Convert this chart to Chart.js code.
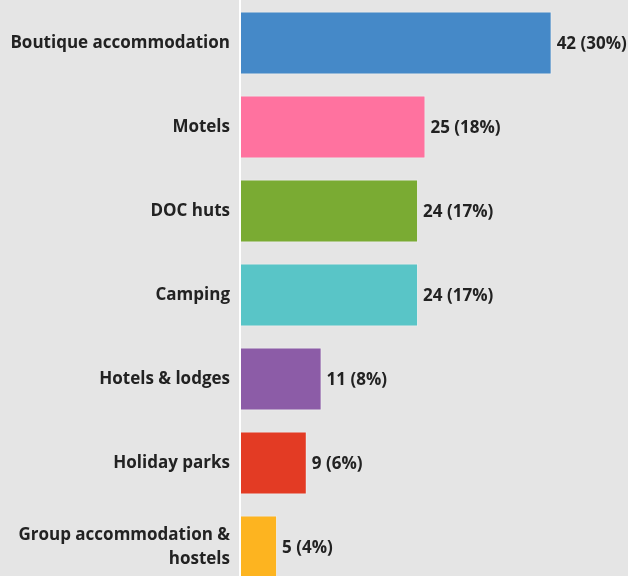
<!DOCTYPE html>
<html>
<head>
<meta charset="utf-8">
<script src="https://cdn.jsdelivr.net/npm/chart.js@4"></script>
<style>
  html, body { margin: 0; padding: 0; background: #e5e5e5; overflow: hidden; }
  #wrap { width: 628px; height: 589px; }
</style>
</head>
<body>
<div id="wrap"><canvas id="chart"></canvas></div>
<script>
// accommodation types and counts
const categories = [
  'Boutique accommodation',
  'Motels',
  'DOC huts',
  'Camping',
  'Hotels & lodges',
  'Holiday parks',
  ['Group accommodation &', 'hostels']
]
const counts = [42, 25, 24, 24, 11, 9, 5]
const barColors = ['#4589c8', '#ff729f', '#7aab33', '#59c5c7', '#8c5ca7', '#e33b24', '#fdb420']

const total = counts.reduce((a, b) => a + b, 0)

// draws "n (p%)" at the end of each bar
const valueLabels = {
  id: 'valueLabels',
  afterDatasetsDraw(chart) {
    const ctx = chart.ctx
    const meta = chart.getDatasetMeta(0)
    ctx.save()
    ctx.font = 'bold 17px "Open Sans"'
    ctx.fillStyle = '#222'
    ctx.textBaseline = 'middle'
    ctx.textAlign = 'left'
    meta.data.forEach((bar, i) => {
      const v = counts[i]
      const pct = Math.round(v / total * 100)
      ctx.fillText(v + ' (' + pct + '%)', bar.x + 5, bar.y + 1)
    })
    ctx.restore()
  }
}

const ctx = document.getElementById('chart').getContext('2d')
const chart = new Chart(ctx, {
  type: 'bar',
  data: {
    labels: categories,
    datasets: [
      {
        data: counts,
        backgroundColor: barColors,
        borderColor: 'rgba(255, 255, 255, 0.35)',
        borderWidth: 1,
        borderSkipped: false,
        barPercentage: 0.75,
        categoryPercentage: 1
      }
    ]
  },
  options: {
    indexAxis: 'y',
    responsive: true,
    maintainAspectRatio: false,
    animation: false,
    layout: { padding: { top: 1, right: 17, bottom: 0, left: 0 } },
    plugins: {
      legend: { display: false },
      tooltip: { enabled: false }
    },
    scales: {
      x: {
        display: false,
        min: 0,
        max: 50
      },
      y: {
        grid: { display: false, drawTicks: false },
        border: { display: true, color: '#ffffff', width: 2 },
        afterFit(scale) {
          scale.width = 240
          scale.paddingTop = 0
          scale.paddingBottom = 0
        },
        ticks: {
          padding: 10,
          color: '#222',
          font: { family: 'Open Sans', size: 17, weight: 'bold', lineHeight: 1.41 }
        }
      }
    }
  },
  plugins: [valueLabels]
})
</script>
</body>
</html>
